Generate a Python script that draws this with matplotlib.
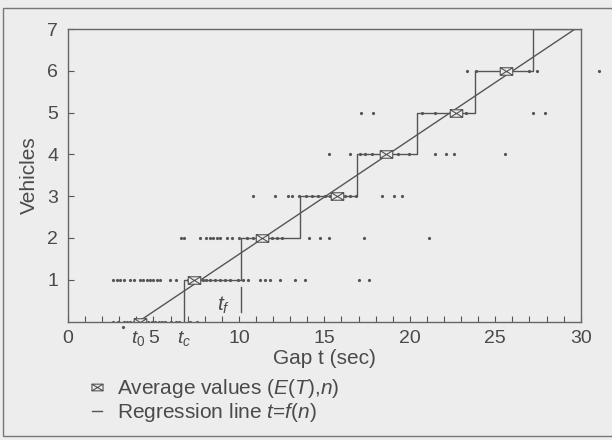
import matplotlib.pyplot as plt
import numpy as np
from matplotlib.path import Path
from matplotlib.lines import Line2D
from matplotlib.patches import Rectangle

plt.rcParams['font.family'] = ['Liberation Sans', 'DejaVu Sans']
plt.rcParams['mathtext.fontset'] = 'custom'
plt.rcParams['mathtext.rm'] = 'Liberation Sans'
plt.rcParams['mathtext.it'] = 'Liberation Sans:italic'

# average accepted gap for n vehicles (E(T), n)
avg_n = [0, 1, 2, 3, 4, 5, 6]
avg_t = [4.2, 7.35, 11.35, 15.75, 18.6, 22.7, 25.6]

# step function: gap where n jumps to n+1 (first edge = tc)
step_t = [6.8, 10.15, 13.55, 16.9, 20.4, 23.8, 27.2]

# observed gaps, one list per number of entering vehicles
obs_0 = [2.65, 2.95, 3.25, 3.45, 3.65, 3.85, 4.7, 4.9, 5.1, 5.3, 5.5, 5.7,
         6.0, 6.3, 6.5, 7.15, 7.55]
obs_1 = [2.65, 2.85, 3.05, 3.25, 3.65, 3.85, 4.2, 4.4, 4.6, 4.8, 5.0, 5.2,
         5.4, 5.95, 6.3, 7.0, 7.6, 7.9, 8.1, 8.3, 8.6, 8.9, 9.2, 9.5, 9.95,
         10.25, 10.55, 11.25, 11.5, 11.8, 12.4, 13.3, 13.85, 17.0, 17.6]
obs_2 = [6.6, 6.8, 7.75, 8.05, 8.3, 8.5, 8.7, 8.9, 9.3, 9.6, 10.0, 10.5,
         10.8, 11.05, 11.65, 11.95, 12.25, 12.5, 14.1, 14.75, 15.3, 17.3, 21.1]
obs_3 = [10.85, 12.1, 12.9, 13.1, 13.5, 13.9, 14.3, 14.65, 15.05, 15.35,
         16.2, 16.5, 16.85, 18.4, 19.05, 19.55]
obs_4 = [15.3, 16.5, 17.1, 17.4, 17.8, 19.3, 19.95, 21.5, 22.1, 22.6, 25.55]
obs_5 = [17.15, 17.85, 20.7, 21.5, 23.3, 27.2, 27.9]
obs_6 = [23.35, 23.85, 27.0, 27.45]
observed = [obs_0, obs_1, obs_2, obs_3, obs_4, obs_5, obs_6]

# points that fall outside the frame in the original
stray_t = [3.2, 31.05]
stray_n = [-0.12, 6]

ink = '#555555'
txt = '#4a4a4a'
bg = '#ededed'

# box with a cross, as in the original legend
box = Path([(-1, -0.6), (1, -0.6), (1, 0.6), (-1, 0.6), (-1, -0.6),
            (-1, -0.6), (1, 0.6), (-1, 0.6), (1, -0.6)],
           [Path.MOVETO, Path.LINETO, Path.LINETO, Path.LINETO, Path.CLOSEPOLY,
            Path.MOVETO, Path.LINETO, Path.MOVETO, Path.LINETO])

fig = plt.figure(figsize=(6.12, 4.4), dpi=100, facecolor=bg)
ax = fig.add_axes([68 / 612, 1 - 321.5 / 440, 512.7 / 612, 292.5 / 440])
ax.set_facecolor(bg)

for n, row in enumerate(observed):
    ax.plot(row, [n] * len(row), 'o', ms=2.3, color=ink, mec='none')
ax.plot(stray_t, stray_n, 'o', ms=2.3, color=ink, mec='none', clip_on=False)

# step function
xs, ys = [], []
for k, t in enumerate(step_t):
    xs += [t, t]
    ys += [k, k + 1]
xs.append(30)
ys.append(len(step_t))
ax.plot(xs, ys, color=ink, lw=1)

# regression line t = a + b n
b, a = np.polyfit(avg_n, avg_t, 1)
n_line = np.array([0, 7])
ax.plot(a + b * n_line, n_line, color=ink, lw=1)

ax.plot(avg_t, avg_n, ls='none', marker=box, ms=9, mfc=bg, mec=ink, mew=0.8)

# tf marker
ax.plot([step_t[1], step_t[1]], [0.22, 0.82], color=ink, lw=1)
ax.text(9.1, 0.38, '$t_f$', fontsize=15, color=txt, ha='center', va='center')

ax.set_xlim(0, 30)
ax.set_ylim(0, 7)
ax.set_xticks(range(0, 31, 5))
ax.set_xticks(range(0, 31), minor=True)
ax.set_yticks(range(1, 8))
ax.tick_params(which='both', direction='in', length=4, width=0.8,
               color=ink, labelcolor=txt, labelsize=14, pad=6)
ax.tick_params(axis='y', pad=7)
for s in ax.spines.values():
    s.set_color('#666666')
    s.set_linewidth(1)

# t0 and tc labels on the gap axis
ax.text(a, -0.074, '$t_0$', transform=ax.get_xaxis_transform(),
        ha='center', va='baseline', fontsize=14, color=txt)
ax.text(step_t[0], -0.074, '$t_c$', transform=ax.get_xaxis_transform(),
        ha='center', va='baseline', fontsize=14, color=txt)

ax.set_xlabel('Gap t (sec)', fontsize=15, color=txt)
ax.xaxis.set_label_coords(0.5, -0.094)
ax.set_ylabel('Vehicles', fontsize=15, color=txt)
ax.yaxis.set_label_coords(-0.056, 0.5)

handles = [Line2D([], [], ls='none', marker=box, ms=8, mfc='none', mec=ink, mew=0.8),
           Line2D([], [], color=ink, lw=1)]
labels = ['Average values ($E$($T$),$n$)', 'Regression line $t$=$f$($n$)']
fig.legend(handles, labels, loc='upper left', bbox_to_anchor=(92 / 612, 1 - 377 / 440),
           frameon=False, fontsize=15, handlelength=0.5, handletextpad=0.7,
           borderpad=0, borderaxespad=0, labelspacing=0.05, labelcolor=txt)

# frame of the printed figure
fig.add_artist(Rectangle((3 / 612, 1 - 436 / 440), 1.0, 428 / 440,
                         transform=fig.transFigure, fill=False, ec='#777777', lw=1))

fig.savefig('out.png', dpi=100, facecolor=bg)
